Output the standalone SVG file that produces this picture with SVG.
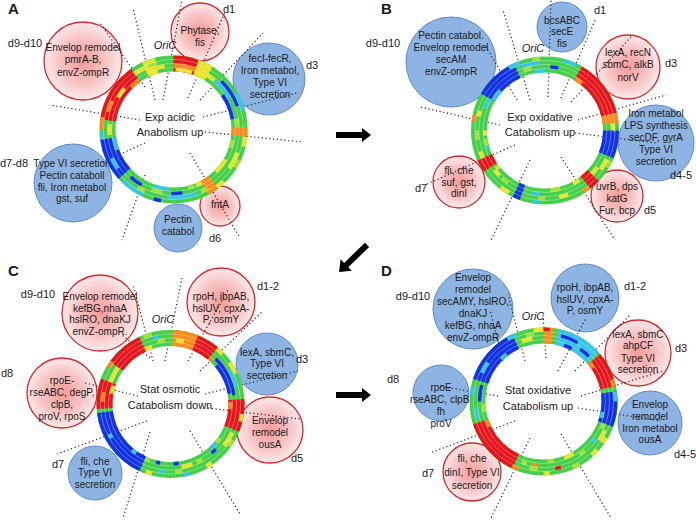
<svg xmlns="http://www.w3.org/2000/svg" width="696" height="522" viewBox="0 0 696 522">
<defs>
<radialGradient id="pink" cx="0.5" cy="0.5" r="0.5">
<stop offset="0" stop-color="#f49a9a"/>
<stop offset="0.6" stop-color="#f8c4c4"/>
<stop offset="1" stop-color="#fdeaea"/>
</radialGradient>
<style>
text{font-family:"Liberation Sans",Arial,sans-serif;fill:#1a1a1a}
.n{font-size:10px;text-anchor:middle}
.m{font-size:11px;text-anchor:middle}
.l{font-size:11px;text-anchor:middle}
.o{font-size:11px;font-style:italic;text-anchor:middle}
.p{font-size:15px;font-weight:bold}
.red{fill:url(#pink);stroke:#d9272c;stroke-width:1.3}
.blu{fill:#8eb4e3;stroke:#5f8ac6;stroke-width:1}
.dot{stroke:#222;stroke-width:1.2;stroke-dasharray:1.2 2.6;fill:none}
.arw{fill:#000}
.ring circle{fill:none}
.F{stroke-width:16}
.T{stroke-width:4}
.g{stroke:#44d048}
.R{stroke:#e8161c}
.O{stroke:#ff8a1c}
.Y{stroke:#ece42a}
.L{stroke:#a4e03c}
.C{stroke:#36c6ea}
.B{stroke:#1232e6}
.s{stroke:#fff;stroke-width:0.6;stroke-opacity:0.55}
</style>
</defs>
<rect width="696" height="522" fill="#fff"/>

<!-- Panel letters -->
<text class="p" x="8" y="14">A</text>
<text class="p" x="381" y="14">B</text>
<text class="p" x="8" y="276">C</text>
<text class="p" x="381" y="276">D</text>

<!-- ===== Panel A nodes ===== -->
<g id="A-d9d10"><circle class="red" cx="83" cy="61" r="39"/>
<text class="n" x="83" y="50.5">Envelop remodel</text><text class="n" x="83" y="63">pmrA-B,</text><text class="n" x="83" y="75.5">envZ-ompR</text></g>
<g id="A-d1"><circle class="red" cx="200" cy="32" r="29"/>
<text class="n" x="200" y="33.5">Phytase,</text><text class="n" x="200" y="45.5">fis</text></g>
<g id="A-d3"><circle class="blu" cx="269" cy="79" r="36"/>
<text class="n" x="270" y="61.5">fecI-fecR,</text><text class="n" x="270" y="74">Iron metabol,</text><text class="n" x="270" y="86">Type VI</text><text class="n" x="270" y="98">secretion</text></g>
<g id="A-d7d8"><circle class="blu" cx="73" cy="183" r="39"/>
<text class="n" x="72" y="166.5">Type VI  secretion</text><text class="n" x="72" y="178.5">Pectin cataboll</text><text class="n" x="72" y="190.5">fli, Iron metabol</text><text class="n" x="72" y="202">gst, suf</text></g>
<g id="A-pectin"><circle class="blu" cx="178" cy="228" r="24"/>
<text class="n" x="178" y="222.5">Pectin</text><text class="n" x="178" y="234.5">catabol</text></g>
<g id="A-d6"><circle class="red" cx="220" cy="206" r="20"/>
<text class="n" x="220" y="207.5">fntA</text></g>

<!-- ===== Panel B nodes ===== -->
<g id="B-d9d10"><circle class="blu" cx="451" cy="62" r="45"/>
<text class="n" x="451" y="38.5">Pectin catabol.</text><text class="n" x="451" y="50.5">Envelop remodel</text><text class="n" x="451" y="62.5">secAM</text><text class="n" x="451" y="74.5">envZ-ompR</text></g>
<g id="B-d1"><circle class="blu" cx="562" cy="27" r="25"/>
<text class="n" x="562" y="23.5">bcsABC</text><text class="n" x="562" y="35">secE</text><text class="n" x="562" y="46.5">fis</text></g>
<g id="B-d3"><circle class="red" cx="628" cy="67" r="32"/>
<text class="n" x="628" y="55.5">lexA, recN</text><text class="n" x="628" y="68">sbmC, alkB</text><text class="n" x="628" y="80.5">norV</text></g>
<g id="B-d45"><circle class="blu" cx="656" cy="143" r="38"/>
<text class="n" x="656" y="116.5">Iron metabol</text><text class="n" x="656" y="128.5">LPS synthesis</text><text class="n" x="656" y="140.5">secDF, gyrA</text><text class="n" x="656" y="152.5">Type VI</text><text class="n" x="656" y="165">secretion</text></g>
<g id="B-d5"><circle class="red" cx="617" cy="196" r="26"/>
<text class="n" x="617" y="189.5">uvrB, dps</text><text class="n" x="617" y="201.5">katG</text><text class="n" x="617" y="213.5">Fur, bcp</text></g>
<g id="B-d7"><circle class="red" cx="459" cy="182" r="26"/>
<text class="n" x="459" y="173.5">fli, che</text><text class="n" x="459" y="185.5">suf, gst,</text><text class="n" x="459" y="196.5">dinI</text></g>

<!-- ===== Panel C nodes ===== -->
<g id="C-d9d10"><circle class="red" cx="100" cy="313" r="38"/>
<text class="n" x="100" y="299.5">Envelop remodel</text><text class="n" x="100" y="311.5">kefBG,nhaA</text><text class="n" x="100" y="322.5">hslRO, dnaKJ</text><text class="n" x="100" y="334.5">envZ-ompR.</text></g>
<g id="C-d12"><circle class="red" cx="221" cy="302" r="34"/>
<text class="n" x="221" y="299.5">rpoH, ibpAB,</text><text class="n" x="221" y="311.5">hslUV, cpxA-</text><text class="n" x="221" y="322.5">P, osmY</text></g>
<g id="C-d3"><circle class="blu" cx="267" cy="364" r="31"/>
<text class="n" x="267" y="355.5">lexA, sbmC,</text><text class="n" x="267" y="366.5">Type VI</text><text class="n" x="267" y="378.5">secretion</text></g>
<g id="C-d5"><circle class="red" cx="270" cy="430" r="33"/>
<text class="n" x="270" y="423.5">Envelop</text><text class="n" x="270" y="435.5">remodel</text><text class="n" x="270" y="447.5">ousA</text></g>
<g id="C-d8"><circle class="red" cx="62" cy="393" r="35"/>
<text class="n" x="62" y="383.5">rpoE-</text><text class="n" x="62" y="395.5">rseABC, degP,</text><text class="n" x="62" y="407.5">clpB,</text><text class="n" x="62" y="420">proV, rpoS</text></g>
<g id="C-d7"><circle class="blu" cx="95" cy="473" r="27"/>
<text class="n" x="95" y="464.5">fli, che</text><text class="n" x="95" y="475.5">Type VI</text><text class="n" x="95" y="487.5">secretion</text></g>

<!-- ===== Panel D nodes ===== -->
<g id="D-d9d10"><circle class="blu" cx="473" cy="309" r="40"/>
<text class="n" x="473" y="280.5">Envelop</text><text class="n" x="473" y="292.5">remodel</text><text class="n" x="473" y="304.5">secAMY, hslRO,</text><text class="n" x="473" y="316.5">dnaKJ</text><text class="n" x="473" y="328.5">kefBG, nhaA</text><text class="n" x="473" y="340.5">envZ-ompR</text></g>
<g id="D-d12"><circle class="blu" cx="585" cy="298" r="34"/>
<text class="n" x="585" y="290.5">rpoH, ibpAB,</text><text class="n" x="585" y="302.5">hslUV, cpxA-</text><text class="n" x="585" y="313.5">P, osmY</text></g>
<g id="D-d3"><circle class="red" cx="638" cy="353" r="33"/>
<text class="n" x="638" y="337.5">lexA, sbmC</text><text class="n" x="638" y="348.5">ahpCF</text><text class="n" x="638" y="361.5">Type VI</text><text class="n" x="638" y="372.5">secretion</text></g>
<g id="D-d45"><circle class="blu" cx="650" cy="423" r="32"/>
<text class="n" x="650" y="407.5">Envelop</text><text class="n" x="650" y="419.5">remodel</text><text class="n" x="650" y="431.5">Iron metabol</text><text class="n" x="650" y="442.5">ousA</text></g>
<g id="D-d8"><circle class="blu" cx="441" cy="393" r="28"/>
<text class="n" x="441" y="390.5">rpoE</text><text class="n" x="441" y="402.5">rseABC, clpB,</text><text class="n" x="441" y="414.5">fh</text><text class="n" x="441" y="426.5">proV</text></g>
<g id="D-d7"><circle class="red" cx="472" cy="472" r="29"/>
<text class="n" x="472" y="461.5">fli, che</text><text class="n" x="472" y="475.5">dinI, Type VI</text><text class="n" x="472" y="488.5">secretion</text></g>

<!-- ===== Connectors ===== -->
<g id="connectors">
<!-- A -->
<line class="dot" x1="155" y1="100" x2="133" y2="8"/>
<line class="dot" x1="163" y1="100" x2="182" y2="0"/>
<line class="dot" x1="188" y1="98" x2="225" y2="12"/>
<line class="dot" x1="200" y1="100" x2="263" y2="33"/>
<line class="dot" x1="203" y1="117" x2="297" y2="93"/>
<line class="dot" x1="205" y1="132" x2="303" y2="142"/>
<line class="dot" x1="190" y1="153" x2="240" y2="238"/>
<line class="dot" x1="145" y1="175" x2="122" y2="240"/>
<line class="dot" x1="145" y1="143" x2="100" y2="163"/>
<line class="dot" x1="140" y1="120" x2="50" y2="105"/>
<line class="dot" x1="145" y1="87" x2="100" y2="23"/>
<!-- B -->
<line class="dot" x1="530" y1="100" x2="503" y2="10"/>
<line class="dot" x1="548" y1="97" x2="551" y2="0"/>
<line class="dot" x1="561" y1="98" x2="596" y2="18"/>
<line class="dot" x1="571" y1="102" x2="631" y2="37"/>
<line class="dot" x1="578" y1="120" x2="666" y2="95"/>
<line class="dot" x1="575" y1="133" x2="656" y2="143"/>
<line class="dot" x1="561" y1="157" x2="615" y2="240"/>
<line class="dot" x1="530" y1="160" x2="491" y2="240"/>
<line class="dot" x1="515" y1="145" x2="425" y2="185"/>
<line class="dot" x1="500" y1="125" x2="420" y2="107"/>
<line class="dot" x1="517" y1="100" x2="485" y2="45"/>
<!-- C -->
<line class="dot" x1="153" y1="361" x2="133" y2="284"/>
<line class="dot" x1="165" y1="361" x2="182" y2="278"/>
<line class="dot" x1="188" y1="361" x2="228" y2="290"/>
<line class="dot" x1="200" y1="371" x2="263" y2="311"/>
<line class="dot" x1="205" y1="394" x2="298" y2="371"/>
<line class="dot" x1="208" y1="408" x2="300" y2="419"/>
<line class="dot" x1="190" y1="431" x2="240" y2="514"/>
<line class="dot" x1="150" y1="432" x2="123" y2="518"/>
<line class="dot" x1="147" y1="421" x2="57" y2="454"/>
<line class="dot" x1="138" y1="396" x2="85" y2="383"/>
<line class="dot" x1="150" y1="358" x2="122" y2="335"/>
<!-- D -->
<line class="dot" x1="525" y1="361" x2="508" y2="294"/>
<line class="dot" x1="546" y1="358" x2="543" y2="314"/>
<line class="dot" x1="558" y1="371" x2="586" y2="318"/>
<line class="dot" x1="575" y1="371" x2="631" y2="314"/>
<line class="dot" x1="581" y1="396" x2="663" y2="371"/>
<line class="dot" x1="578" y1="408" x2="661" y2="421"/>
<line class="dot" x1="561" y1="434" x2="611" y2="518"/>
<line class="dot" x1="530" y1="438" x2="491" y2="518"/>
<line class="dot" x1="515" y1="421" x2="430" y2="453"/>
<line class="dot" x1="498" y1="396" x2="438" y2="386"/>
<line class="dot" x1="503" y1="361" x2="490" y2="310"/>
<!-- transition arrows -->
<path class="arw" d="M336,132 H362 V128 L371,135 L362,142 V138 H336 Z"/>
<path class="arw" transform="translate(339,272) rotate(136)" d="M-39,-3 H-10 V-8 L0,0 L-10,8 V3 H-39 Z"/>
<path class="arw" d="M336,392 H362 V388 L371,395 L362,402 V398 H336 Z"/>
</g>

<!-- ===== Rings ===== -->
<g id="ringA" class="ring" transform="translate(173.5,129.5) rotate(-90)">
<circle r="66" class="F g"/>
<circle r="66" class="F R" pathLength="360" stroke-dasharray="20 999"/>
<circle r="66" class="F Y" pathLength="360" stroke-dasharray="0 20 12 999"/>
<circle r="66" class="F O" pathLength="360" stroke-dasharray="0 88 8 999"/>
<circle r="66" class="F O" pathLength="360" stroke-dasharray="0 143 9 999"/>
<circle r="66" class="F B" pathLength="360" stroke-dasharray="0 228 34 999"/>
<circle r="66" class="F R" pathLength="360" stroke-dasharray="0 278 47 999"/>
<circle r="66" class="F Y" pathLength="360" stroke-dasharray="0 335 10 999"/>
<circle r="64" class="T O" pathLength="360" stroke-dasharray="20 999"/>
<circle r="60" class="T Y" pathLength="360" stroke-dasharray="0 2 16 999"/>
<circle r="64" class="T Y" pathLength="360" stroke-dasharray="0 30 10 999"/>
<circle r="68" class="T B" pathLength="360" stroke-dasharray="0 45 25 999"/>
<circle r="64" class="T C" pathLength="360" stroke-dasharray="0 40 20 999"/>
<circle r="60" class="T B" pathLength="360" stroke-dasharray="0 55 25 999"/>
<circle r="72" class="T C" pathLength="360" stroke-dasharray="0 60 15 999"/>
<circle r="72" class="T Y" pathLength="360" stroke-dasharray="0 96 8 999"/>
<circle r="68" class="T Y" pathLength="360" stroke-dasharray="0 110 15 999"/>
<circle r="60" class="T Y" pathLength="360" stroke-dasharray="0 120 15 999"/>
<circle r="72" class="T Y" pathLength="360" stroke-dasharray="0 136 7 999"/>
<circle r="60" class="T Y" pathLength="360" stroke-dasharray="0 152 6 999"/>
<circle r="68" class="T C" pathLength="360" stroke-dasharray="0 160 25 999"/>
<circle r="64" class="T B" pathLength="360" stroke-dasharray="0 172 10 999"/>
<circle r="60" class="T C" pathLength="360" stroke-dasharray="0 185 15 999"/>
<circle r="72" class="T B" pathLength="360" stroke-dasharray="0 190 6 999"/>
<circle r="72" class="T C" pathLength="360" stroke-dasharray="0 205 20 999"/>
<circle r="64" class="T B" pathLength="360" stroke-dasharray="0 210 12 999"/>
<circle r="68" class="T C" pathLength="360" stroke-dasharray="0 235 10 999"/>
<circle r="60" class="T C" pathLength="360" stroke-dasharray="0 250 12 999"/>
<circle r="72" class="T C" pathLength="360" stroke-dasharray="0 262 6 999"/>
<circle r="64" class="T Y" pathLength="360" stroke-dasharray="0 265 10 999"/>
<circle r="72" class="T O" pathLength="360" stroke-dasharray="0 270 10 999"/>
<circle r="68" class="T O" pathLength="360" stroke-dasharray="0 285 10 999"/>
<circle r="64" class="T Y" pathLength="360" stroke-dasharray="0 300 10 999"/>
<circle r="60" class="T O" pathLength="360" stroke-dasharray="0 315 10 999"/>
<circle r="68" class="T Y" pathLength="360" stroke-dasharray="0 325 10 999"/>
<circle r="64" class="T Y" pathLength="360" stroke-dasharray="0 345 7 999"/>
<circle r="68" class="T L" pathLength="360" stroke-dasharray="0 338 8 999"/>
<circle r="60" class="T L" pathLength="360" stroke-dasharray="0 100 8 999"/>
<circle r="72" class="T L" pathLength="360" stroke-dasharray="0 115 7 999"/>
<circle r="64" class="T L" pathLength="360" stroke-dasharray="0 190 10 999"/>
<circle r="68" class="T L" pathLength="360" stroke-dasharray="0 205 7 999"/>
<circle r="64" class="T L" pathLength="360" stroke-dasharray="0 80 8 999"/>
<circle r="68" class="T L" pathLength="360" stroke-dasharray="0 150 6 999"/>
<circle r="60" class="T L" pathLength="360" stroke-dasharray="0 160 6 999"/>
<circle r="70" class="s"/><circle r="66" class="s"/><circle r="62" class="s"/>
</g>

<g id="ringB" class="ring" transform="translate(545,130.5) rotate(-90)">
<circle r="66" class="F g"/>
<circle r="66" class="F B" pathLength="360" stroke-dasharray="0 300 35 999"/>
<circle r="66" class="F R" pathLength="360" stroke-dasharray="0 30 46 999"/>
<circle r="66" class="F O" pathLength="360" stroke-dasharray="0 76 8 999"/>
<circle r="66" class="F B" pathLength="360" stroke-dasharray="0 90 22 999"/>
<circle r="66" class="F R" pathLength="360" stroke-dasharray="0 133 9 999"/>
<circle r="66" class="F B" pathLength="360" stroke-dasharray="0 200 6 999"/>
<circle r="66" class="F R" pathLength="360" stroke-dasharray="0 236 10 999"/>
<circle r="60" class="T C" pathLength="360" stroke-dasharray="0 300 12 999"/>
<circle r="72" class="T C" pathLength="360" stroke-dasharray="0 330 10 999"/>
<circle r="68" class="T C" pathLength="360" stroke-dasharray="0 340 15 999"/>
<circle r="60" class="T C" pathLength="360" stroke-dasharray="0 350 10 999"/>
<circle r="64" class="T B" pathLength="360" stroke-dasharray="0 5 7 999"/>
<circle r="72" class="T C" pathLength="360" stroke-dasharray="0 15 10 999"/>
<circle r="60" class="T O" pathLength="360" stroke-dasharray="0 30 8 999"/>
<circle r="68" class="T Y" pathLength="360" stroke-dasharray="0 84 6 999"/>
<circle r="68" class="T Y" pathLength="360" stroke-dasharray="0 115 10 999"/>
<circle r="64" class="T Y" pathLength="360" stroke-dasharray="0 125 8 999"/>
<circle r="72" class="T O" pathLength="360" stroke-dasharray="0 142 6 999"/>
<circle r="60" class="T Y" pathLength="360" stroke-dasharray="0 145 7 999"/>
<circle r="68" class="T Y" pathLength="360" stroke-dasharray="0 160 8 999"/>
<circle r="64" class="T C" pathLength="360" stroke-dasharray="0 185 7 999"/>
<circle r="72" class="T Y" pathLength="360" stroke-dasharray="0 210 8 999"/>
<circle r="64" class="T Y" pathLength="360" stroke-dasharray="0 225 7 999"/>
<circle r="68" class="T Y" pathLength="360" stroke-dasharray="0 246 6 999"/>
<circle r="60" class="T C" pathLength="360" stroke-dasharray="0 252 6 999"/>
<circle r="60" class="T Y" pathLength="360" stroke-dasharray="0 265 5 999"/>
<circle r="72" class="T O" pathLength="360" stroke-dasharray="0 277 6 999"/>
<circle r="68" class="T Y" pathLength="360" stroke-dasharray="0 282 5 999"/>
<circle r="64" class="T C" pathLength="360" stroke-dasharray="0 290 10 999"/>
<circle r="72" class="T L" pathLength="360" stroke-dasharray="0 115 6 999"/>
<circle r="60" class="T L" pathLength="360" stroke-dasharray="0 165 10 999"/>
<circle r="68" class="T L" pathLength="360" stroke-dasharray="0 180 6 999"/>
<circle r="64" class="T L" pathLength="360" stroke-dasharray="0 215 7 999"/>
<circle r="72" class="T C" pathLength="360" stroke-dasharray="0 185 5 999"/>
<circle r="60" class="T L" pathLength="360" stroke-dasharray="0 255 7 999"/>
<circle r="68" class="T L" pathLength="360" stroke-dasharray="0 262 8 999"/>
<circle r="64" class="T L" pathLength="360" stroke-dasharray="0 340 8 999"/>
<circle r="72" class="T L" pathLength="360" stroke-dasharray="0 350 6 999"/>
<circle r="60" class="T Y" pathLength="360" stroke-dasharray="0 230 4 999"/>
<circle r="70" class="s"/><circle r="66" class="s"/><circle r="62" class="s"/>
</g>

<g id="ringC" class="ring" transform="translate(170.5,404) rotate(-90)">
<circle r="66" class="F g"/>
<circle r="66" class="F R" pathLength="360" stroke-dasharray="0 305 30 999"/>
<circle r="66" class="F O" pathLength="360" stroke-dasharray="0 2 20 999"/>
<circle r="66" class="F R" pathLength="360" stroke-dasharray="0 22 18 999"/>
<circle r="66" class="F R" pathLength="360" stroke-dasharray="0 86 26 999"/>
<circle r="66" class="F B" pathLength="360" stroke-dasharray="0 205 58 999"/>
<circle r="66" class="F R" pathLength="360" stroke-dasharray="0 266 24 999"/>
<circle r="72" class="T O" pathLength="360" stroke-dasharray="0 300 6 999"/>
<circle r="60" class="T Y" pathLength="360" stroke-dasharray="0 335 7 999"/>
<circle r="64" class="T Y" pathLength="360" stroke-dasharray="0 290 15 999"/>
<circle r="68" class="T C" pathLength="360" stroke-dasharray="0 345 5 999"/>
<circle r="64" class="T Y" pathLength="360" stroke-dasharray="0 5 7 999"/>
<circle r="72" class="T Y" pathLength="360" stroke-dasharray="0 40 6 999"/>
<circle r="60" class="T O" pathLength="360" stroke-dasharray="0 40 4 999"/>
<circle r="64" class="T B" pathLength="360" stroke-dasharray="0 45 37 999"/>
<circle r="60" class="T B" pathLength="360" stroke-dasharray="0 50 30 999"/>
<circle r="72" class="T Y" pathLength="360" stroke-dasharray="0 55 10 999"/>
<circle r="68" class="T C" pathLength="360" stroke-dasharray="0 60 15 999"/>
<circle r="72" class="T Y" pathLength="360" stroke-dasharray="0 98 6 999"/>
<circle r="60" class="T O" pathLength="360" stroke-dasharray="0 88 7 999"/>
<circle r="68" class="T Y" pathLength="360" stroke-dasharray="0 115 13 999"/>
<circle r="64" class="T B" pathLength="360" stroke-dasharray="0 135 5 999"/>
<circle r="60" class="T C" pathLength="360" stroke-dasharray="0 130 8 999"/>
<circle r="72" class="T Y" pathLength="360" stroke-dasharray="0 145 5 999"/>
<circle r="64" class="T Y" pathLength="360" stroke-dasharray="0 160 10 999"/>
<circle r="60" class="T B" pathLength="360" stroke-dasharray="0 172 5 999"/>
<circle r="68" class="T C" pathLength="360" stroke-dasharray="0 185 5 999"/>
<circle r="60" class="T B" pathLength="360" stroke-dasharray="0 190 4 999"/>
<circle r="72" class="T Y" pathLength="360" stroke-dasharray="0 195 5 999"/>
<circle r="60" class="T C" pathLength="360" stroke-dasharray="0 215 5 999"/>
<circle r="68" class="T C" pathLength="360" stroke-dasharray="0 240 4 999"/>
<circle r="68" class="T O" pathLength="360" stroke-dasharray="0 272 8 999"/>
<circle r="60" class="T Y" pathLength="360" stroke-dasharray="0 280 8 999"/>
<circle r="72" class="T L" pathLength="360" stroke-dasharray="0 120 6 999"/>
<circle r="64" class="T L" pathLength="360" stroke-dasharray="0 150 6 999"/>
<circle r="68" class="T L" pathLength="360" stroke-dasharray="0 170 6 999"/>
<circle r="60" class="T L" pathLength="360" stroke-dasharray="0 200 5 999"/>
<circle r="72" class="T C" pathLength="360" stroke-dasharray="0 165 5 999"/>
<circle r="64" class="T L" pathLength="360" stroke-dasharray="0 348 7 999"/>
<circle r="72" class="T L" pathLength="360" stroke-dasharray="0 338 7 999"/>
<circle r="60" class="T L" pathLength="360" stroke-dasharray="0 125 5 999"/>
<circle r="70" class="s"/><circle r="66" class="s"/><circle r="62" class="s"/>
</g>

<g id="ringD" class="ring" transform="translate(543.5,401.5) rotate(-90)">
<circle r="66" class="F g"/>
<circle r="66" class="F B" pathLength="360" stroke-dasharray="0 288 47 999"/>
<circle r="66" class="F O" pathLength="360" stroke-dasharray="8 999"/>
<circle r="66" class="F C" pathLength="360" stroke-dasharray="0 12 36 999"/>
<circle r="66" class="F R" pathLength="360" stroke-dasharray="0 50 28 999"/>
<circle r="66" class="F B" pathLength="360" stroke-dasharray="0 82 28 999"/>
<circle r="66" class="F R" pathLength="360" stroke-dasharray="0 205 47 999"/>
<circle r="68" class="T C" pathLength="360" stroke-dasharray="0 295 10 999"/>
<circle r="72" class="T C" pathLength="360" stroke-dasharray="0 330 8 999"/>
<circle r="60" class="T C" pathLength="360" stroke-dasharray="0 315 7 999"/>
<circle r="64" class="T Y" pathLength="360" stroke-dasharray="0 340 10 999"/>
<circle r="72" class="T Y" pathLength="360" stroke-dasharray="0 352 8 999"/>
<circle r="72" class="T R" pathLength="360" stroke-dasharray="5 999"/>
<circle r="68" class="T B" pathLength="360" stroke-dasharray="0 15 15 999"/>
<circle r="64" class="T B" pathLength="360" stroke-dasharray="0 35 10 999"/>
<circle r="60" class="T B" pathLength="360" stroke-dasharray="0 20 8 999"/>
<circle r="60" class="T O" pathLength="360" stroke-dasharray="0 50 6 999"/>
<circle r="72" class="T O" pathLength="360" stroke-dasharray="0 72 6 999"/>
<circle r="72" class="T C" pathLength="360" stroke-dasharray="0 82 8 999"/>
<circle r="60" class="T C" pathLength="360" stroke-dasharray="0 100 6 999"/>
<circle r="68" class="T Y" pathLength="360" stroke-dasharray="0 115 10 999"/>
<circle r="64" class="T C" pathLength="360" stroke-dasharray="0 125 5 999"/>
<circle r="72" class="T Y" pathLength="360" stroke-dasharray="0 132 6 999"/>
<circle r="60" class="T Y" pathLength="360" stroke-dasharray="0 150 10 999"/>
<circle r="68" class="T R" pathLength="360" stroke-dasharray="0 165 5 999"/>
<circle r="72" class="T Y" pathLength="360" stroke-dasharray="0 175 5 999"/>
<circle r="64" class="T O" pathLength="360" stroke-dasharray="0 185 5 999"/>
<circle r="72" class="T O" pathLength="360" stroke-dasharray="0 200 6 999"/>
<circle r="60" class="T O" pathLength="360" stroke-dasharray="0 245 7 999"/>
<circle r="68" class="T C" pathLength="360" stroke-dasharray="0 255 10 999"/>
<circle r="64" class="T B" pathLength="360" stroke-dasharray="0 270 15 999"/>
<circle r="72" class="T C" pathLength="360" stroke-dasharray="0 275 7 999"/>
<circle r="64" class="T L" pathLength="360" stroke-dasharray="0 140 6 999"/>
<circle r="72" class="T L" pathLength="360" stroke-dasharray="0 150 6 999"/>
<circle r="60" class="T L" pathLength="360" stroke-dasharray="0 170 6 999"/>
<circle r="68" class="T L" pathLength="360" stroke-dasharray="0 185 7 999"/>
<circle r="64" class="T L" pathLength="360" stroke-dasharray="0 195 5 999"/>
<circle r="60" class="T L" pathLength="360" stroke-dasharray="0 260 8 999"/>
<circle r="68" class="T L" pathLength="360" stroke-dasharray="0 345 7 999"/>
<circle r="72" class="T Y" pathLength="360" stroke-dasharray="0 120 5 999"/>
<circle r="64" class="T L" pathLength="360" stroke-dasharray="0 110 5 999"/>
<circle r="70" class="s"/><circle r="66" class="s"/><circle r="62" class="s"/>
</g>

<!-- ===== Ring captions and domain labels ===== -->
<g id="labelsA">
<text class="m" x="170" y="121">Exp acidic</text><text class="m" x="170" y="136">Anabolism up</text>
<text class="o" x="165" y="49">OriC</text>
<text class="l" x="229" y="13">d1</text><text class="l" x="25" y="47">d9-d10</text><text class="l" x="312" y="69">d3</text>
<text class="l" x="14" y="167">d7-d8</text><text class="l" x="215" y="242">d6</text>
</g>
<g id="labelsB">
<text class="m" x="540" y="121">Exp oxidative</text><text class="m" x="540" y="136">Catabolism up</text>
<text class="o" x="533" y="52">OriC</text>
<text class="l" x="600" y="14">d1</text><text class="l" x="383" y="47">d9-d10</text><text class="l" x="671" y="67">d3</text>
<text class="l" x="681" y="179">d4-5</text><text class="l" x="650" y="214">d5</text><text class="l" x="421" y="192">d7</text>
</g>
<g id="labelsC">
<text class="m" x="170" y="393">Stat osmotic</text><text class="m" x="170" y="409">Catabolism down</text>
<text class="o" x="163" y="323">OriC</text>
<text class="l" x="38" y="298">d9-d10</text><text class="l" x="268" y="290">d1-2</text><text class="l" x="302" y="363">d3</text>
<text class="l" x="7" y="377">d8</text><text class="l" x="297" y="462">d5</text><text class="l" x="58" y="468">d7</text>
</g>
<g id="labelsD">
<text class="m" x="538" y="394">Stat oxidative</text><text class="m" x="538" y="410">Catabolism up</text>
<text class="o" x="533" y="320">OriC</text>
<text class="l" x="413" y="300">d9-d10</text><text class="l" x="635" y="290">d1-2</text><text class="l" x="681" y="352">d3</text>
<text class="l" x="393" y="383">d8</text><text class="l" x="685" y="458">d4-5</text><text class="l" x="428" y="477">d7</text>
</g>
</svg>
